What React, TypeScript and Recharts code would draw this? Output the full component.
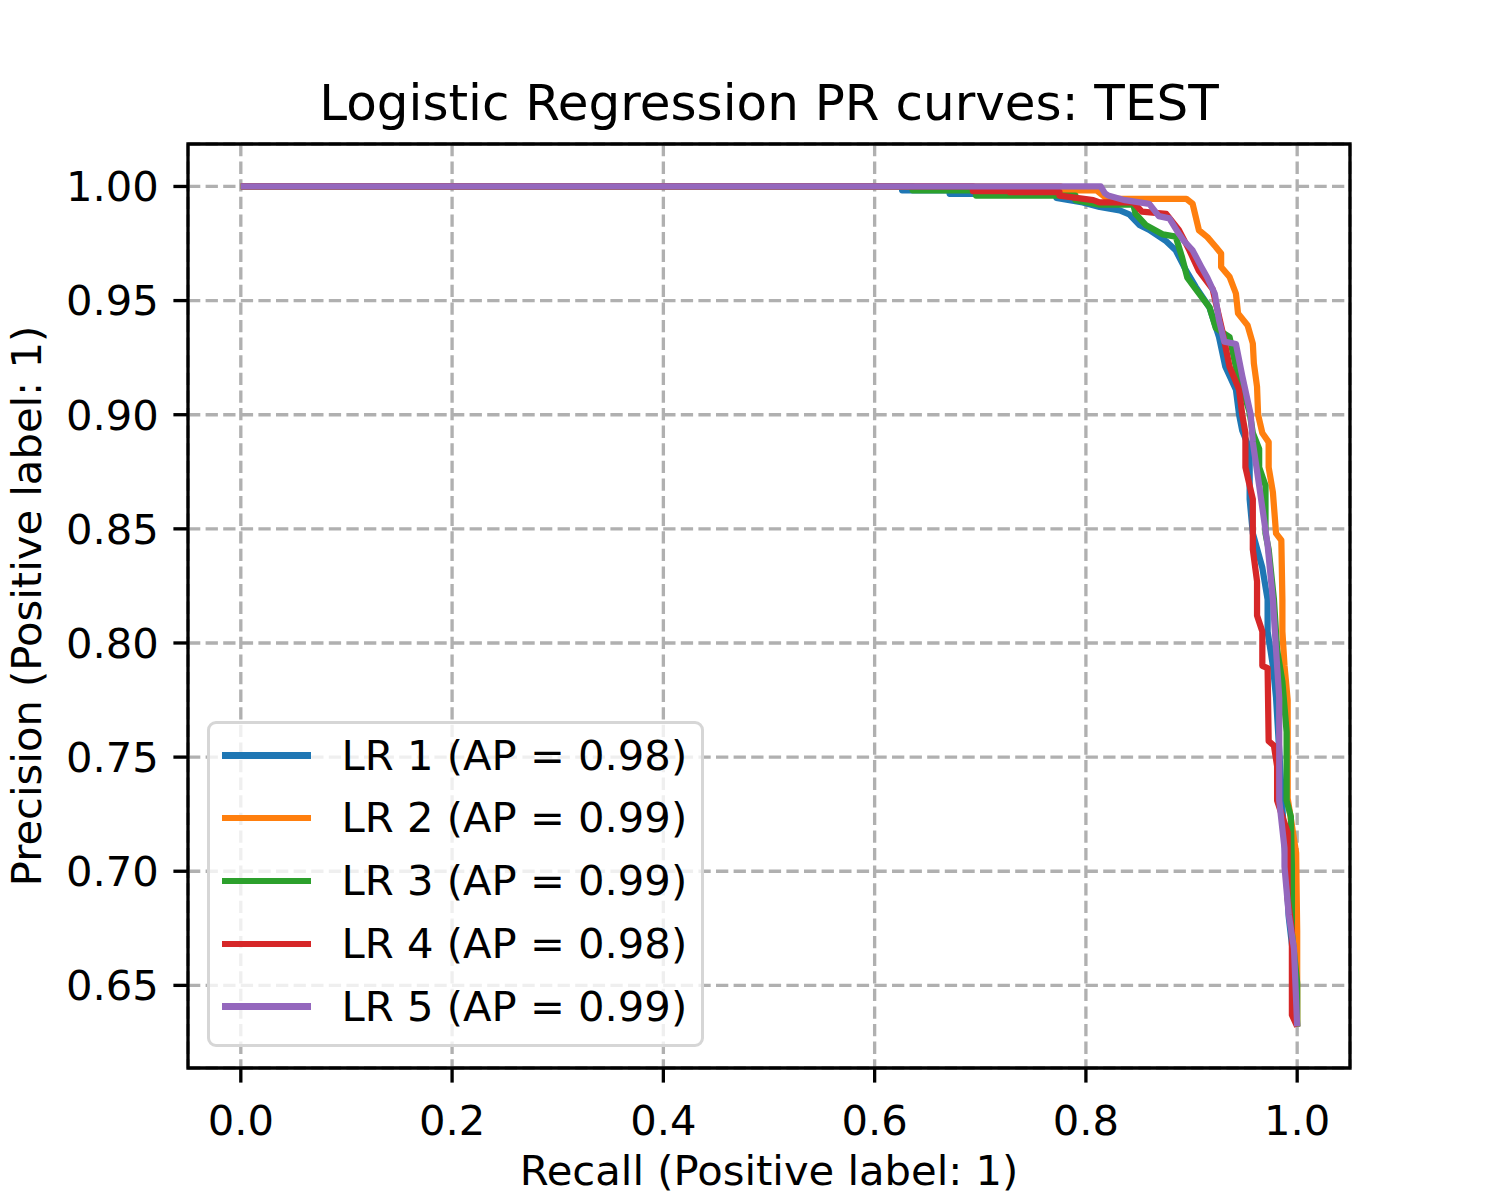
import React from 'react';
import {
  LineChart, Line, XAxis, YAxis, CartesianGrid, Legend, ReferenceArea, Customized,
} from 'recharts';

// ── Data ───────────────────────────────────────────────────────
const X_TICKS = [0, 0.2, 0.4, 0.6, 0.8, 1.0];
const Y_TICKS = [0.65, 0.7, 0.75, 0.8, 0.85, 0.9, 0.95, 1.0];
const X_DOMAIN: [number, number] = [-0.05, 1.05];
const Y_DOMAIN: [number, number] = [0.6138, 1.0186];

const SERIES_NAMES = [
  'LR 1 (AP = 0.98)',
  'LR 2 (AP = 0.99)',
  'LR 3 (AP = 0.99)',
  'LR 4 (AP = 0.98)',
  'LR 5 (AP = 0.99)',
];
const SERIES_COLORS = ['#1f77b4', '#ff7f0e', '#2ca02c', '#d62728', '#9467bd'];

const LR1_RECALL = [0, 0.626, 0.626, 0.671, 0.671, 0.772, 0.772, 0.797, 0.813, 0.832, 0.841, 0.851, 0.860, 0.876, 0.885, 0.895, 0.904, 0.917, 0.926, 0.932, 0.942, 0.945, 0.948, 0.955, 0.955, 0.958, 0.967, 0.972, 0.972, 0.977, 0.980, 0.983, 0.987, 0.992, 0.997, 1.0];
const LR1_PRECISION = [1, 1, 0.9983, 0.9983, 0.9968, 0.9968, 0.995, 0.993, 0.991, 0.9895, 0.9878, 0.983, 0.981, 0.976, 0.972, 0.963, 0.956, 0.947, 0.934, 0.921, 0.911, 0.900, 0.893, 0.885, 0.863, 0.848, 0.833, 0.819, 0.805, 0.790, 0.776, 0.753, 0.72, 0.68, 0.66, 0.632];

const LR2_RECALL = [0, 0.776, 0.776, 0.794, 0.810, 0.818, 0.828, 0.895, 0.901, 0.907, 0.915, 0.923, 0.928, 0.928, 0.936, 0.942, 0.944, 0.953, 0.958, 0.959, 0.962, 0.963, 0.967, 0.973, 0.973, 0.977, 0.980, 0.985, 0.986, 0.986, 0.988, 0.991, 0.991, 0.995, 0.999, 1.0, 1.0];
const LR2_PRECISION = [1, 1, 0.998, 0.9983, 0.9983, 0.9954, 0.9946, 0.9946, 0.9924, 0.9808, 0.9778, 0.9735, 0.9706, 0.9647, 0.9604, 0.9531, 0.9444, 0.9392, 0.9312, 0.9225, 0.9123, 0.900, 0.892, 0.888, 0.877, 0.866, 0.848, 0.845, 0.819, 0.805, 0.790, 0.775, 0.732, 0.72, 0.708, 0.674, 0.632];

const LR3_RECALL = [0, 0.636, 0.636, 0.696, 0.696, 0.79, 0.79, 0.813, 0.845, 0.847, 0.857, 0.873, 0.885, 0.891, 0.896, 0.904, 0.917, 0.923, 0.936, 0.942, 0.955, 0.958, 0.964, 0.964, 0.970, 0.970, 0.973, 0.978, 0.981, 0.986, 0.990, 0.990, 0.994, 0.995, 0.995, 1.0, 1.0];
const LR3_PRECISION = [1, 1, 0.9983, 0.9983, 0.996, 0.996, 0.994, 0.992, 0.992, 0.988, 0.983, 0.979, 0.978, 0.969, 0.960, 0.955, 0.947, 0.938, 0.934, 0.921, 0.901, 0.892, 0.885, 0.877, 0.869, 0.848, 0.841, 0.819, 0.797, 0.783, 0.761, 0.731, 0.724, 0.702, 0.673, 0.651, 0.632];

const LR4_RECALL = [0, 0.693, 0.693, 0.728, 0.728, 0.775, 0.775, 0.807, 0.813, 0.845, 0.853, 0.876, 0.888, 0.898, 0.907, 0.920, 0.929, 0.936, 0.945, 0.948, 0.951, 0.951, 0.958, 0.958, 0.962, 0.962, 0.967, 0.967, 0.972, 0.973, 0.978, 0.981, 0.981, 0.991, 0.991, 0.995, 0.995, 1.0];
const LR4_PRECISION = [1, 1, 0.998, 0.998, 0.9975, 0.9975, 0.996, 0.994, 0.993, 0.993, 0.989, 0.988, 0.981, 0.972, 0.963, 0.955, 0.937, 0.921, 0.911, 0.900, 0.892, 0.877, 0.863, 0.841, 0.827, 0.812, 0.805, 0.790, 0.789, 0.757, 0.755, 0.746, 0.731, 0.717, 0.688, 0.674, 0.637, 0.632];

const LR5_RECALL = [0, 0.814, 0.818, 0.821, 0.837, 0.860, 0.869, 0.879, 0.887, 0.893, 0.901, 0.909, 0.915, 0.922, 0.926, 0.931, 0.942, 0.948, 0.956, 0.958, 0.964, 0.972, 0.977, 0.980, 0.983, 0.983, 0.988, 0.988, 0.992, 0.997, 1.0];
const LR5_PRECISION = [1, 1, 0.997, 0.996, 0.994, 0.9924, 0.987, 0.986, 0.980, 0.976, 0.972, 0.965, 0.960, 0.953, 0.9415, 0.932, 0.931, 0.917, 0.900, 0.888, 0.869, 0.843, 0.819, 0.797, 0.776, 0.731, 0.710, 0.702, 0.681, 0.666, 0.632];

const RECALLS = [LR1_RECALL, LR2_RECALL, LR3_RECALL, LR4_RECALL, LR5_RECALL];
const PRECISIONS = [LR1_PRECISION, LR2_PRECISION, LR3_PRECISION, LR4_PRECISION, LR5_PRECISION];

const curves = RECALLS.map((rec, i) =>
  rec.map((r, j) => ({ recall: r, precision: PRECISIONS[i][j] })),
);

// ── Styling (matplotlib defaults at 300 dpi) ───────────────────
const FONT = 41.7;
const TICK_LEN = 14.6;
const SPINE_W = 3.33;

const LegendBox = (props: any) => {
  const items = props.payload || [];
  return (
    <div
      style={{
        boxSizing: 'border-box', width: 497, height: 326,
        background: 'rgba(255,255,255,0.8)', border: `${SPINE_W}px solid #d6d6d6`,
        borderRadius: 9, paddingLeft: 11.5, fontFamily: 'DejaVu Sans',
      }}
    >
      {items.map((it: any, i: number) => (
        <div key={i} style={{ height: 62.75, display: 'flex', alignItems: 'center' }}>
          <div style={{ width: 89, height: 6.25, background: it.color }} />
          <span style={{ marginLeft: 31, fontSize: FONT, lineHeight: 1, color: '#000' }}>
            {it.value}
          </span>
        </div>
      ))}
    </div>
  );
};

const Title = () => (
  <text x={769} y={119.5} textAnchor="middle" fontSize={50} fill="#000"
    style={{ fontFamily: 'DejaVu Sans' }}>
    Logistic Regression PR curves: TEST
  </text>
);

export default function App() {
  return (
    <div style={{ position: 'absolute', left: 0, top: 0, background: '#fff', fontFamily: 'DejaVu Sans' }}>
      <LineChart width={1500} height={1200} margin={{ top: 144, right: 150, left: 0, bottom: 0 }}>
        <CartesianGrid stroke="#b0b0b0" strokeWidth={SPINE_W} strokeDasharray="12.3 5.3" />
        <XAxis
          type="number" dataKey="recall" domain={X_DOMAIN} ticks={X_TICKS}
          allowDataOverflow height={132}
          tickFormatter={(v: number) => v.toFixed(1)}
          tick={{ fill: '#000', fontSize: FONT }}
          axisLine={false} stroke="#000"
          tickLine={{ stroke: '#000', strokeWidth: SPINE_W }}
          tickSize={TICK_LEN} tickMargin={22.4}
          label={{ value: 'Recall (Positive label: 1)', position: 'insideBottom', offset: 15, fontSize: FONT, fill: '#000' }}
        />
        <YAxis
          type="number" domain={Y_DOMAIN} ticks={Y_TICKS}
          allowDataOverflow width={188}
          tickFormatter={(v: number) => v.toFixed(2)}
          tick={{ fill: '#000', fontSize: FONT }}
          axisLine={false} stroke="#000"
          tickLine={{ stroke: '#000', strokeWidth: SPINE_W }}
          tickSize={TICK_LEN} tickMargin={TICK_LEN}
          label={{
            value: 'Precision (Positive label: 1)', angle: -90, position: 'insideLeft',
            offset: 26, fontSize: FONT, fill: '#000', style: { textAnchor: 'middle' },
          }}
        />
        {curves.map((d, i) => (
          <Line
            key={SERIES_NAMES[i]}
            data={d}
            dataKey="precision"
            name={SERIES_NAMES[i]}
            type="linear"
            stroke={SERIES_COLORS[i]}
            strokeWidth={6.25}
            strokeLinejoin="round"
            dot={false}
            activeDot={false}
            isAnimationActive={false}
          />
        ))}
        <ReferenceArea
          x1={X_DOMAIN[0]} x2={X_DOMAIN[1]} y1={Y_DOMAIN[0]} y2={Y_DOMAIN[1]}
          fill="none" stroke="#000" strokeWidth={SPINE_W} ifOverflow="extendDomain"
        />
        <Legend
          layout="vertical" align="center" verticalAlign="middle"
          wrapperStyle={{ left: 207, top: 721, width: 497 }}
          content={LegendBox}
        />
        <Customized component={Title} />
      </LineChart>
    </div>
  );
}
